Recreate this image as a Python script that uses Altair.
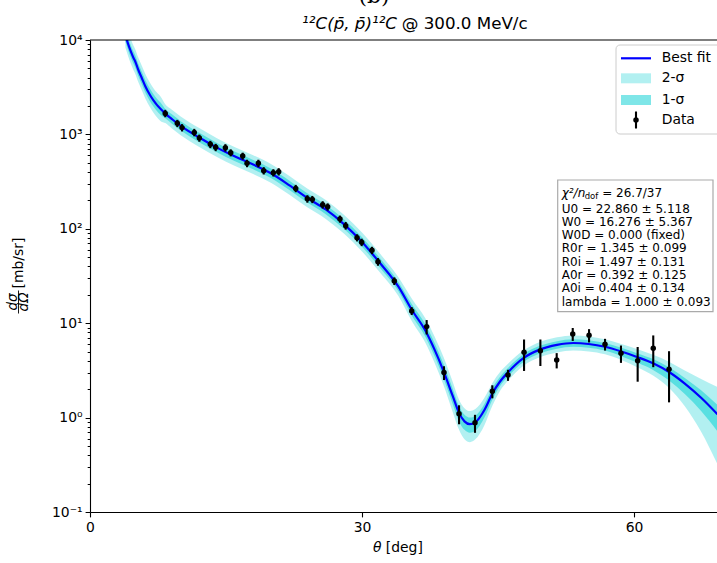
import altair as alt
import numpy as np
import pandas as pd

# ---------------- data ----------------
theta_data = [8.30, 9.63, 10.15, 11.50, 12.06, 13.27, 13.86, 14.93, 15.52, 16.84,
              17.32, 18.57, 19.16, 20.22, 20.81, 22.69, 23.97, 24.52, 25.66, 26.21,
              27.57, 28.20, 29.45, 29.96, 31.10, 31.76, 33.56, 35.48, 37.13, 39.04,
              40.70, 42.46, 44.37, 46.10, 47.87, 49.67, 51.47, 53.24, 55.04, 56.80,
              58.56, 60.40, 62.12, 63.86]
xs_data = [1670, 1310, 1180, 1050, 915, 785, 729, 723, 640, 590,
           494, 494, 413, 393, 403, 268, 208, 205, 180, 171,
           127, 108, 80.5, 72.0, 59.2, 44.8, 28.0, 13.5, 9.2, 3.0,
           1.10, 0.88, 1.90, 2.83, 4.92, 5.12, 4.07, 7.69, 7.45, 5.98,
           4.80, 4.00, 5.42, 3.25]
xs_err = [150, 115, 105, 95, 80, 70, 65, 65, 55, 50,
          45, 45, 37, 35, 36, 24, 19, 18, 16, 15,
          11, 10, 7.0, 6.5, 5.3, 4.2, 2.6, 1.3, 1.6, 0.5,
          0.25, 0.19, 0.30, 0.38, 1.8, 1.6, 0.75, 1.2, 1.2, 0.85,
          1.0, 1.6, 2.0, 1.8]

# best-fit curve, read in decades (log10 of mb/sr)
theta_fit = [3.9, 4.2, 4.5, 4.8, 5.0, 5.3, 5.7, 6.1, 6.6, 7.0, 7.4, 7.8, 8.3, 9.0,
             10, 12, 14, 16, 18, 20, 22, 24, 26, 28, 30, 32, 34, 35.5, 37, 38, 39,
             40, 40.7, 41.3, 41.9, 42.5, 43.5, 44.4, 45.2, 46.1, 47.8, 49.6, 51.5,
             53.3, 55.0, 56.8, 58.6, 60.4, 62.1, 63.9, 65.6, 67.4, 69.2]
fit_log10 = [4.05, 3.96, 3.88, 3.81, 3.77, 3.69, 3.60, 3.51, 3.42, 3.36, 3.31, 3.27, 3.22, 3.165,
             3.09, 2.97, 2.86, 2.765, 2.68, 2.585, 2.46, 2.325, 2.205, 2.05, 1.86, 1.635, 1.39, 1.14, 0.92, 0.72, 0.49,
             0.23, 0.05, -0.04, -0.07, -0.05, 0.08, 0.26, 0.38, 0.48, 0.63, 0.72, 0.77,
             0.79, 0.78, 0.75, 0.70, 0.64, 0.575, 0.48, 0.36, 0.21, 0.035]
# band half-widths (decades) above / below the fit
sig2_up = [0.13]*12 + [0.10]*15 + [0.12, 0.13, 0.14, 0.15,
           0.15, 0.14, 0.14, 0.14, 0.14, 0.13, 0.11, 0.10, 0.09, 0.08, 0.08, 0.08,
           0.08, 0.08, 0.08, 0.08, 0.085, 0.09, 0.11, 0.14, 0.20, 0.29]
sig2_dn = [0.13]*12 + [0.10]*15 + [0.12, 0.13, 0.14, 0.15,
           0.17, 0.18, 0.19, 0.19, 0.18, 0.16, 0.13, 0.10, 0.09, 0.08, 0.08, 0.08,
           0.08, 0.08, 0.08, 0.09, 0.11, 0.13, 0.17, 0.24, 0.36, 0.53]
sig1_up = [0.065]*12 + [0.05]*15 + [0.06, 0.065, 0.07, 0.075,
           0.075, 0.07, 0.07, 0.07, 0.07, 0.065, 0.055, 0.05, 0.045, 0.04, 0.04, 0.04,
           0.04, 0.04, 0.04, 0.04, 0.04, 0.045, 0.05, 0.06, 0.08, 0.10]
sig1_dn = [0.065]*12 + [0.05]*15 + [0.06, 0.065, 0.07, 0.075,
           0.085, 0.09, 0.09, 0.09, 0.09, 0.08, 0.065, 0.05, 0.045, 0.04, 0.04, 0.04,
           0.04, 0.04, 0.04, 0.05, 0.06, 0.07, 0.09, 0.11, 0.14, 0.18]

x_ticks = [0, 30, 60]
y_major = [0.1, 1, 10, 100, 1000, 10000]
y_major_labels = ["10⁻¹", "10⁰", "10¹", "10²", "10³", "10⁴"]

legend_labels = ["Best fit", "2-σ", "1-σ", "Data"]
chi2_text = ["χ²/n", "dof", "= 26.7/37"]
stats_lines = ["U0 = 22.860 ± 5.118", "W0 = 16.276 ± 5.367", "W0D = 0.000 (fixed)",
               "R0r = 1.345 ± 0.099", "R0i = 1.497 ± 0.131", "A0r = 0.392 ± 0.125",
               "A0i = 0.404 ± 0.134", "lambda = 1.000 ± 0.093"]

# ---------------- tables ----------------
fl = np.array(fit_log10)
fit_df = pd.DataFrame({
    "theta": theta_fit,
    "fit": 10 ** fl,
    "lo2": 10 ** (fl - np.array(sig2_dn)),
    "hi2": 10 ** (fl + np.array(sig2_up)),
    "lo1": 10 ** (fl - np.array(sig1_dn)),
    "hi1": 10 ** (fl + np.array(sig1_up)),
})
xs = np.array(xs_data, dtype=float)
er = np.array(xs_err, dtype=float)
data_df = pd.DataFrame({"theta": theta_data, "xs": xs, "lo": xs - er, "hi": xs + er})

minor = []
for k in range(-1, 4):
    for m in range(2, 10):
        minor.append(float(f"{m}e{k}"))
y_ticks = y_major + minor

label_expr = " : ".join(
    [f"datum.value == {v} ? '{l}'" for v, l in zip(y_major, y_major_labels)]) + " : ''"

FONT = "DejaVu Sans"
W, H = 627, 472

x_axis = alt.Axis(values=x_ticks, format="d", title=None, grid=False,
                  tickSize=4.9, tickWidth=1.1, tickColor="black",
                  domainColor="black", domainWidth=1.1,
                  labelFontSize=13.9, labelColor="black", labelFont=FONT,
                  labelPadding=4, labelFlush=False)
y_axis = alt.Axis(values=y_ticks, labelExpr=label_expr, title=None, grid=False,
                  tickSize={"condition": {"test": "indexof([0.1,1,10,100,1000,10000], datum.value) >= 0",
                                          "value": 4.9}, "value": 2.8},
                  tickWidth=1.0, tickColor="black",
                  domainColor="black", domainWidth=1.1,
                  labelFontSize=13.9, labelColor="black", labelFont=FONT,
                  labelPadding=3, labelFlush=False, labelOverlap=False)
x_scale = alt.Scale(domain=[0, 69.15], nice=False, zero=False)
y_scale = alt.Scale(type="log", domain=[0.1, 10000], nice=False)

X = alt.X("theta:Q", scale=x_scale, axis=x_axis)

def Y(field):
    return alt.Y(f"{field}:Q", scale=y_scale, axis=y_axis)

TEAL = "#00CED1"
band2 = alt.Chart(fit_df).mark_area(color=TEAL, opacity=0.3, clip=True, interpolate="monotone").encode(
    x=X, y=Y("lo2"), y2="hi2:Q")
band1 = alt.Chart(fit_df).mark_area(color=TEAL, opacity=0.5, clip=True, interpolate="monotone").encode(
    x=X, y=Y("lo1"), y2="hi1:Q")
line = alt.Chart(fit_df).mark_line(color="#0000FF", strokeWidth=2.2, clip=True, interpolate="monotone").encode(
    x=X, y=Y("fit"))
ebars = alt.Chart(data_df).mark_rule(color="black", strokeWidth=2.1).encode(
    x=X, y=Y("lo"), y2="hi:Q")
pts = alt.Chart(data_df).mark_point(filled=True, color="black", size=30, opacity=1).encode(
    x=X, y=Y("xs"))

one = pd.DataFrame({"k": [0]})


def txt(text, x, y, size=13.9, align="left", baseline="middle", style="normal",
        angle=0, font=FONT, **kw):
    return alt.Chart(one).mark_text(text=text, align=align, baseline=baseline, fontSize=size,
                                    fontStyle=style, angle=angle, font=font, color="black", **kw
                                    ).encode(x=alt.value(x), y=alt.value(y))


def rect(x1, x2, y1, y2, **kw):
    return alt.Chart(one).mark_rect(**kw).encode(
        x=alt.value(x1), x2=alt.value(x2), y=alt.value(y1), y2=alt.value(y2))


def hrule(x1, x2, y, **kw):
    return alt.Chart(one).mark_rule(**kw).encode(x=alt.value(x1), x2=alt.value(x2), y=alt.value(y))


def vrule(x, y1, y2, **kw):
    return alt.Chart(one).mark_rule(**kw).encode(x=alt.value(x), y=alt.value(y1), y2=alt.value(y2))


top_spine = hrule(0, W + 5, 0, color="black", strokeWidth=1.1)

# legend (upper right)
lg_x0, lg_sym0, lg_sym1, lg_lab = 526, 531, 561, 571.7
rows = [18.3, 38.3, 60.0, 80.0]
legend = [
    rect(lg_x0, 650, 5, 94, fill="white", fillOpacity=0.8, stroke="#cccccc", strokeWidth=1, cornerRadius=4),
    hrule(lg_sym0, lg_sym1, rows[0], color="#0000FF", strokeWidth=2.2),
    rect(lg_sym0, lg_sym1, rows[1] - 5, rows[1] + 5, color=TEAL, opacity=0.3),
    rect(lg_sym0, lg_sym1, rows[2] - 5, rows[2] + 5, color=TEAL, opacity=0.5),
    vrule((lg_sym0 + lg_sym1) / 2, rows[3] - 8.5, rows[3] + 8.5, color="black", strokeWidth=2.1),
    alt.Chart(one).mark_point(filled=True, color="black", size=30, opacity=1).encode(
        x=alt.value((lg_sym0 + lg_sym1) / 2), y=alt.value(rows[3])),
]
for lab, r in zip(legend_labels, rows):
    legend.append(txt(lab, lg_lab, r, size=13.9))

# fit statistics box
sx = 471.7
stats = [
    rect(467.7, 623, 140, 271.7, fill="white", fillOpacity=0.8, stroke="#aaaaaa", strokeWidth=1.2),
    txt(chi2_text[0], sx, 153.0, size=12, style="italic"),
    txt(chi2_text[1], sx + 23.0, 156.0, size=8.5),
    txt(chi2_text[2], sx + 40.5, 153.0, size=12),
    alt.Chart(one).mark_text(text=stats_lines, align="left", baseline="middle", fontSize=12,
                             lineHeight=13.3, font=FONT, color="black").encode(
        x=alt.value(sx), y=alt.value(168.6)),
]

# titles and axis labels
titles = [
    txt("(b)", 284, -37, size=22, align="center", baseline="alphabetic", font="DejaVu Serif"),
    txt("¹²C(p̄, p̄)¹²C", 307, -16, size=16.7, align="right", style="italic"),
    txt("@ 300.0 MeV/c", 311.7, -16, size=16.7, align="left"),
    txt("θ", 283, 508, size=13.9, align="left", style="italic"),
    txt("[deg]", 295.8, 508, size=13.9, align="left"),
    txt("[mb/sr]", -71.5, 223, size=13.9, align="center", angle=270),
    txt("dσ", -77, 262, size=13.5, align="center", angle=270, style="italic"),
    txt("dΩ", -65.8, 262, size=13.5, align="center", angle=270, style="italic"),
    vrule(-71.5, 250.5, 273.5, color="black", strokeWidth=0.9),
]

chart = alt.layer(band2, band1, line, ebars, pts, top_spine, *legend, *stats, *titles).properties(
    width=W, height=H, autosize="none",
    padding={"left": 90, "top": 40, "right": 0, "bottom": 51},
    background="white",
).configure_view(stroke=None)

chart.save("out.html", embed_options={"renderer": "svg", "actions": False})
